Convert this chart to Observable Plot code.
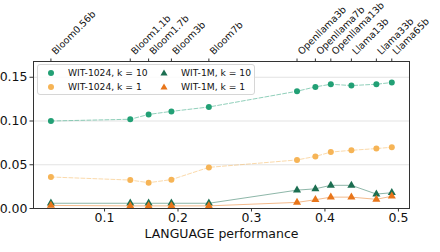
<!DOCTYPE html>
<html>
<head>
<meta charset="utf-8">
<script src="https://cdn.jsdelivr.net/npm/d3@7"></script>
<script src="https://cdn.jsdelivr.net/npm/@observablehq/plot@0.6"></script>
<style>
  body { margin: 0; background: #fff; }
  #chart { position: relative; width: 440px; height: 252px; font-family: "DejaVu Sans", sans-serif; }
  #legend {
    position: absolute; left: 37px; top: 64px; width: 216px; height: 29px;
    border: 1px solid #d6d6d6; border-radius: 3px; background: rgba(255,255,255,0.85);
  }
  #legend svg { position: absolute; left: 0; top: 0; }
</style>
</head>
<body>
<div id="chart"><div id="legend"></div></div>
<script>
// Model names shown along the top axis, and their LANGUAGE performance
const models = ["Bloom0.56b", "Bloom1.1b", "Bloom1.7b", "Bloom3b", "Bloom7b",
  "Openllama3b", "Openllama7b", "Openllama13b", "Llama13b", "Llama33b", "Llama65b"];
const language = [0.027, 0.135, 0.160, 0.191, 0.242, 0.362, 0.387, 0.408, 0.436, 0.470, 0.491];

// Scores per retrieval setting
const wit1024k10 = [0.100, 0.102, 0.1075, 0.111, 0.116, 0.134, 0.139, 0.142, 0.1405, 0.142, 0.144];
const wit1024k1  = [0.036, 0.0325, 0.0295, 0.033, 0.047, 0.0555, 0.0595, 0.0645, 0.0665, 0.0685, 0.070];
const wit1mk10   = [0.006, 0.006, 0.006, 0.006, 0.006, 0.021, 0.0225, 0.0265, 0.0265, 0.0165, 0.018];
const wit1mk1    = [0.0035, 0.003, 0.003, 0.003, 0.003, 0.007, 0.010, 0.013, 0.013, 0.0105, 0.014];

const xTicks = [0.1, 0.2, 0.3, 0.4, 0.5];
const yTicks = [0, 0.05, 0.10, 0.15];

const series = [
  {name: "WIT-1024, k = 10", values: wit1024k10, color: "#22a075", symbol: "circle", dash: "4,2"},
  {name: "WIT-1024, k = 1",  values: wit1024k1,  color: "#f6b456", symbol: "circle", dash: "4,2"},
  {name: "WIT-1M, k = 10",   values: wit1mk10,   color: "#1c6e51", symbol: "triangle", dash: null},
  {name: "WIT-1M, k = 1",    values: wit1mk1,    color: "#e8751a", symbol: "triangle", dash: null}
];

const marks = [
  Plot.gridY(yTicks.slice(1), {stroke: "#b0b0b0", strokeOpacity: 0.35})
];
for (const s of series) {
  const rows = language.map((x, i) => ({x, y: s.values[i]}));
  marks.push(Plot.line(rows, {x: "x", y: "y", stroke: s.color, strokeOpacity: 0.5,
    strokeWidth: 1, strokeDasharray: s.dash || undefined}));
  marks.push(Plot.dot(rows, {x: "x", y: "y", fill: s.color, stroke: "none",
    symbol: s.symbol, r: 3}));
}
marks.push(
  Plot.frame({stroke: "#333", strokeWidth: 1}),
  Plot.axisY({ticks: yTicks, tickFormat: ".2f", tickSize: 3.5, tickPadding: 2.5,
    fontSize: 12.5, label: null, stroke: "#333", fill: "#111"}),
  Plot.axisX({anchor: "bottom", ticks: xTicks, tickFormat: ".1f", tickSize: 3.5,
    tickPadding: 1, fontSize: 12.5, label: null, stroke: "#333", fill: "#111"}),
  Plot.axisX({anchor: "top", ticks: language, tickFormat: () => "", tickSize: 3.5,
    label: null, stroke: "#333"}),
  Plot.text(language, {x: d => d, text: (d, i) => models[i], frameAnchor: "top",
    dx: 0, dy: -11, rotate: -45, textAnchor: "start", fontSize: 9.5, fill: "#111"}),
  Plot.text(["LANGUAGE performance"], {frameAnchor: "bottom", dy: 25,
    lineAnchor: "middle", fontSize: 12.5, fill: "#111"})
);

const chart = Plot.plot({
  width: 440,
  height: 252,
  marginLeft: 33,
  marginRight: 31,
  marginTop: 61,
  marginBottom: 44,
  style: {fontFamily: "DejaVu Sans, sans-serif", background: "#fff"},
  x: {domain: [0.0033, 0.5151]},
  y: {domain: [0, 0.168]},
  marks
});
document.getElementById("chart").prepend(chart);

// Legend: two columns of marker + label
const lg = d3.select("#legend").append("svg").attr("width", 216).attr("height", 29);
const pos = [[13, 8], [13, 22], [126, 8], [126, 22]];
series.forEach((s, i) => {
  const [cx, cy] = pos[i];
  if (s.symbol === "circle") {
    lg.append("circle").attr("cx", cx).attr("cy", cy).attr("r", 3).attr("fill", s.color);
  } else {
    lg.append("path").attr("d", d3.symbol(d3.symbolTriangle, 22)()).attr("transform", `translate(${cx},${cy + 0.5})`).attr("fill", s.color);
  }
  lg.append("text").attr("x", cx + 17).attr("y", cy).attr("dy", "0.35em")
    .attr("font-size", 9.2).attr("font-family", "DejaVu Sans, sans-serif").attr("fill", "#111").text(s.name);
});
</script>
</body>
</html>
